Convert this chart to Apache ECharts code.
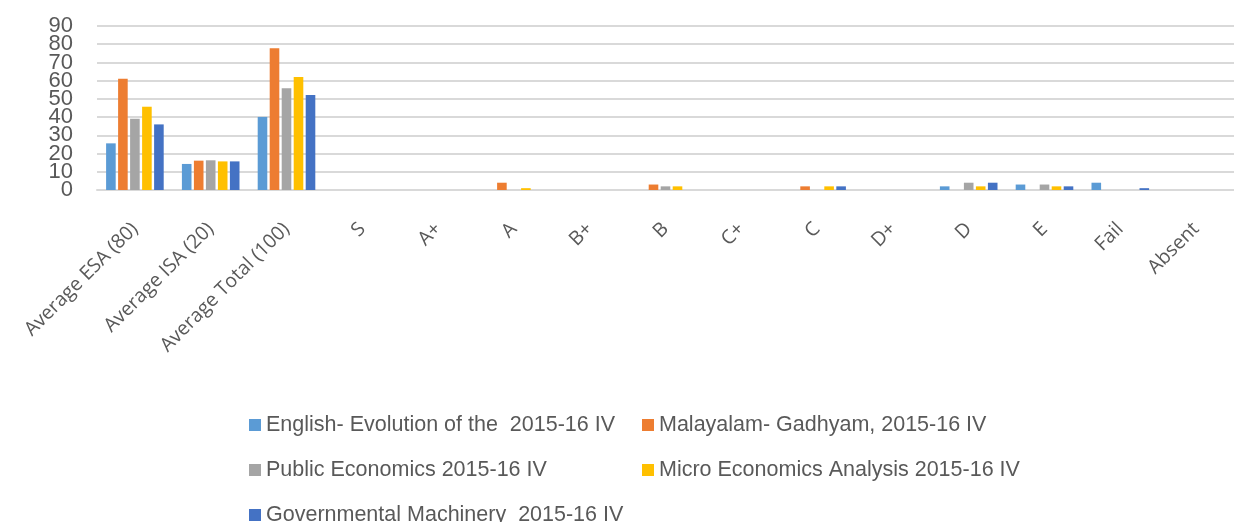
<!DOCTYPE html>
<html>
<head>
<meta charset="utf-8">
<script src="https://cdn.jsdelivr.net/npm/echarts@6/dist/echarts.min.js"></script>
<style>
  html, body { margin: 0; padding: 0; background: #fff; }
  #chart { width: 1234px; height: 522px; }
</style>
</head>
<body>
<div id="chart"></div>
<script>
// categories on the x axis
const categories = ["Average ESA (80)", "Average ISA (20)", "Average Total (100)", "S", "A+", "A", "B+", "B", "C+", "C", "D+", "D", "E", "Fail", "Absent"];

// one array per paper
const english = [25.6, 14.3, 40.1, 0, 0, 0, 0, 0, 0, 0, 0, 2, 3, 4, 0];
const malayalam = [61.1, 16.1, 77.8, 0, 0, 4, 0, 3, 0, 2, 0, 0, 0, 0, 0];
const publicEco = [39.1, 16.3, 55.8, 0, 0, 0, 0, 2, 0, 0, 0, 4, 3, 0, 0];
const microEco = [45.7, 15.7, 62.0, 0, 0, 1, 0, 2, 0, 2, 0, 2, 2, 0, 0];
const governmental = [36.0, 15.7, 52.1, 0, 0, 0, 0, 0, 0, 2, 0, 4, 2, 1, 0];

const names = [
    "English- Evolution of the  2015-16 IV",
    "Malayalam- Gadhyam, 2015-16 IV",
    "Public Economics 2015-16 IV",
    "Micro Economics Analysis 2015-16 IV",
    "Governmental Machinery  2015-16 IV",
];
const colors = ["#5B9BD5", "#ED7D31", "#A5A5A5", "#FFC000", "#4472C4"];
const values = [english, malayalam, publicEco, microEco, governmental];

const chart = echarts.init(document.getElementById("chart"));

// legend placement: one entry per box (column x, row y)
const legendSpots = [
    [244, 409],
    [637, 409],
    [244, 454],
    [637, 454],
    [244, 499],
];

const legends = names.map((name, i) => ({
    left: legendSpots[i][0],
    top: legendSpots[i][1],
    itemWidth: 12,
    itemHeight: 12,
    itemGap: 0,
    icon: "rect",
    textStyle: {
        fontFamily: "'Liberation Sans', sans-serif",
        fontSize: 21.5,
        color: "#595959",
    },
    data: [name],
}));

const yLabel = {
    margin: 24,
    color: "#595959",
    fontFamily: "'Liberation Sans', sans-serif",
    fontSize: 22,
};

const option = {
    animation: false,
    color: colors,
    grid: {
        left: 97,
        right: 0,
        top: 26,
        bottom: 332,
        containLabel: false,
    },
    legend: legends,
    xAxis: {
        type: "category",
        data: categories,
        axisLine: { lineStyle: { color: "#d9d9d9", width: 2 } },
        axisTick: { show: false },
        axisLabel: {
            interval: 0,
            rotate: 45,
            margin: 36,
            color: "#595959",
            fontFamily: "'Open Sans', sans-serif",
            fontSize: 19.5,
        },
    },
    yAxis: [
        {
            // gridlines + labels 10..80 (0 and 90 drop out because the big font overlaps)
            type: "value",
            min: 0,
            max: 90,
            interval: 10,
            axisLine: { show: false },
            axisTick: { show: false },
            splitLine: { lineStyle: { color: "#d9d9d9", width: 2 } },
            axisLabel: yLabel,
        },
        {
            // second axis just to print 0 and 90
            type: "value",
            position: "left",
            min: 0,
            max: 90,
            interval: 90,
            axisLine: { show: false },
            axisTick: { show: false },
            splitLine: { show: false },
            axisLabel: yLabel,
        },
    ],
    series: names.map((name, i) => ({
        name: name,
        type: "bar",
        data: values[i],
        barGap: "25%",
        barCategoryGap: "24%",
    })),
};

chart.setOption(option);
</script>
</body>
</html>
